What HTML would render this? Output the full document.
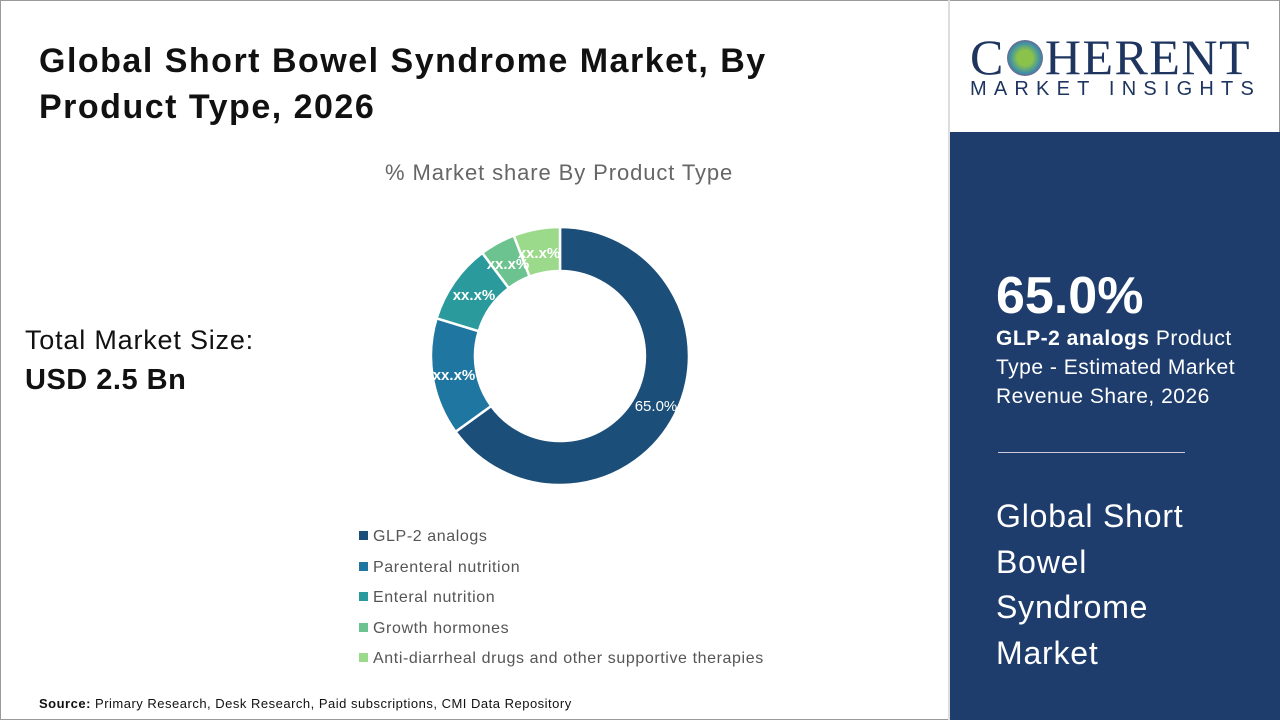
<!DOCTYPE html>
<html><head><style>
body{margin:0;width:1280px;height:720px;overflow:hidden;background:#fff;font-family:"Liberation Sans",sans-serif;}
.frame{position:absolute;left:0;top:0;width:1278px;height:718px;border:1px solid #9a9a9a;}
.t{position:absolute;white-space:nowrap;}
</style></head><body>
<div class="frame"></div>
<div class="t" style="left:39px;top:38px;font-size:34px;font-weight:bold;color:#111;line-height:46px;letter-spacing:1.5px">Global Short Bowel Syndrome Market, By<br>Product Type, 2026</div>
<div class="t" style="left:385px;top:160px;font-size:22px;color:#666;letter-spacing:0.9px">% Market share By Product Type</div>
<div class="t" style="left:25px;top:325px;font-size:27px;color:#111;letter-spacing:0.8px">Total Market Size:</div>
<div class="t" style="left:25px;top:364px;font-size:29px;font-weight:bold;color:#111;letter-spacing:0.5px">USD 2.5 Bn</div>
<svg class="t" style="left:0;top:0" width="948" height="720">
<g stroke="#fff" stroke-width="2.5">
<path d="M560,227 A129,129 0 1 1 455.6,431.8 L491.2,406 A85,85 0 1 0 560,271 Z" fill="#1b4e78"/>
<path d="M455.6,431.8 A129,129 0 0 1 436.6,318.3 L478.7,331.2 A85,85 0 0 0 491.2,406 Z" fill="#1f76a0"/>
<path d="M436.6,318.3 A129,129 0 0 1 482.3,252.9 L508.8,288.1 A85,85 0 0 0 478.7,331.2 Z" fill="#2b9a9c"/>
<path d="M482.3,252.9 A129,129 0 0 1 513.8,235.6 L529.6,276.6 A85,85 0 0 0 508.8,288.1 Z" fill="#6cc38f"/>
<path d="M513.8,235.6 A129,129 0 0 1 560,227 L560,271 A85,85 0 0 0 529.6,276.6 Z" fill="#9bd98b"/>
</g>
<g fill="#fff" font-family="Liberation Sans,sans-serif" font-size="15" text-anchor="middle">
<text x="656" y="411">65.0%</text>
<text x="454" y="380" font-weight="bold">xx.x%</text>
<text x="474" y="300" font-weight="bold">xx.x%</text>
<text x="508" y="269" font-weight="bold">xx.x%</text>
<text x="539" y="258" font-weight="bold">xx.x%</text>
</g>
<g font-family="Liberation Sans,sans-serif" font-size="16" fill="#555" letter-spacing="0.6">
<rect x="359" y="531" width="9" height="9" fill="#1b4e78"/><text x="373" y="541">GLP-2 analogs</text>
<rect x="359" y="562" width="9" height="9" fill="#1f76a0"/><text x="373" y="572">Parenteral nutrition</text>
<rect x="359" y="592" width="9" height="9" fill="#2b9a9c"/><text x="373" y="602">Enteral nutrition</text>
<rect x="359" y="623" width="9" height="9" fill="#6cc38f"/><text x="373" y="633">Growth hormones</text>
<rect x="359" y="653" width="9" height="9" fill="#9bd98b"/><text x="373" y="663">Anti-diarrheal drugs and other supportive therapies</text>
</g>
<text x="39" y="708" font-family="Liberation Sans,sans-serif" font-size="13" fill="#111" letter-spacing="0.5"><tspan font-weight="bold">Source:</tspan> Primary Research, Desk Research, Paid subscriptions, CMI Data Repository</text>
</svg>
<div class="t" style="left:948px;top:0;width:2px;height:720px;background:#ddd"></div>
<div class="t" style="left:950px;top:132px;width:330px;height:588px;background:#1e3d6d"></div>
<div class="t" style="left:970px;top:28px;font-family:'Liberation Serif',serif;font-size:50px;color:#1e3560;letter-spacing:1.5px">C<span style="display:inline-block;width:36px;height:36px;border-radius:50%;background:radial-gradient(circle,#8bc34a 30%,#3d8fa8 60%,#b0306a 85%,transparent 90%);vertical-align:-2px;margin:0 2px"></span>HERENT</div>
<div class="t" style="left:970px;top:78px;font-size:20px;color:#1e3560;letter-spacing:7.2px">MARKET INSIGHTS</div>
<div class="t" style="left:996px;top:266px;font-size:52px;font-weight:bold;color:#fff">65.0%</div>
<div class="t" style="left:996px;top:324px;font-size:21px;color:#fff;line-height:29px;letter-spacing:0.5px"><b>GLP-2 analogs</b> Product<br>Type - Estimated Market<br>Revenue Share, 2026</div>
<div class="t" style="left:998px;top:452px;width:187px;height:1px;background:#ccd"></div>
<div class="t" style="left:996px;top:494px;font-size:32px;color:#fff;line-height:45.5px;letter-spacing:0.8px">Global Short<br>Bowel<br>Syndrome<br>Market</div>
</body></html>
